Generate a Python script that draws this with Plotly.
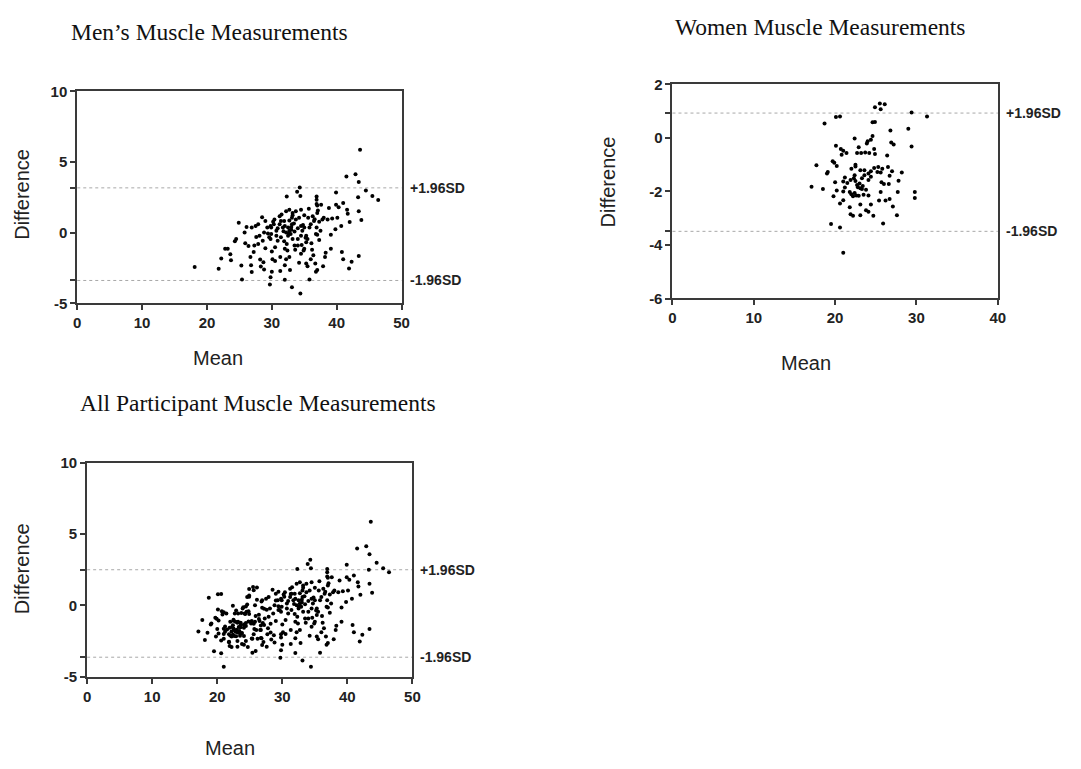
import plotly.graph_objects as go

# ---------------- data ----------------
men_mean = [43.6, 41.5, 42.9, 43.4, 44.5, 45.5, 46.4, 43.3, 34.3, 33.9, 34.4, 32.3, 39.9, 36.9, 36.9, 36.9,
            37.6, 38.8, 39.9, 40.3, 41.0, 41.6, 41.7, 43.4, 43.8, 42.0, 40.7, 39.8, 39.1, 40.1, 39.3, 38.0,
            37.1, 37.0, 36.3, 35.6, 35.0, 34.2, 33.2, 32.7, 32.2, 31.5, 31.2, 30.4, 30.2, 29.9, 29.4, 29.6,
            28.5, 29.0, 27.9, 27.5, 26.9, 26.1, 25.8, 25.9, 24.5, 24.3, 22.8, 23.2, 22.2, 23.6, 23.7, 21.8,
            18.1, 25.4, 25.3, 26.7, 26.8, 26.9, 27.2, 27.3, 28.2, 28.3, 28.7, 28.8, 29.0, 29.8, 29.9, 30.0,
            30.1, 29.8, 29.7, 30.0, 30.5, 31.3, 32.0, 32.2, 32.4, 32.3, 32.7, 32.8, 33.1, 34.4, 33.2, 33.5,
            33.6, 34.0, 34.2, 34.5, 35.0, 35.3, 35.5, 35.8, 36.0, 36.4, 36.7, 36.8, 37.0, 36.2, 36.1, 37.3,
            37.0, 37.9, 38.2, 38.3, 39.1, 40.8, 41.0, 41.9, 42.3, 43.4, 32.7, 33.0, 33.1, 32.5, 32.0, 31.7,
            31.2, 30.9, 30.7, 32.2, 32.5, 32.9, 33.5, 34.0, 34.5, 34.7, 35.0, 35.3, 35.5, 34.5, 34.0, 35.8,
            36.0, 36.5, 37.3, 37.8, 38.6, 36.9, 37.5, 36.8, 33.7, 33.1, 32.7, 31.9, 31.4, 33.7, 34.5, 33.2,
            35.7, 37.0, 29.8, 29.3, 28.8, 28.1, 28.6, 27.9, 30.9, 30.7, 31.4, 31.9, 30.5, 32.0, 34.6, 35.3,
            34.9, 32.0, 31.3, 33.0, 32.6, 33.4, 34.8, 35.2, 36.6, 31.8, 30.3, 26.4, 24.9, 27.6]
men_diff = [5.87, 3.98, 4.14, 3.59, 2.99, 2.60, 2.32, 2.50, 3.20, 2.90, 2.60, 2.55, 2.85, 2.55, 2.33, 2.03,
            1.98, 1.75, 1.98, 1.79, 2.10, 1.63, 1.33, 1.51, 0.89, 0.75, 0.47, 0.24, -0.15, 1.05, 1.00, 1.05,
            1.56, 1.40, 1.16, 1.05, 1.23, 1.05, 1.23, 1.63, 1.51, 1.28, 1.16, 0.93, 0.77, 0.36, -0.06, -0.33,
            1.10, 0.82, 0.59, 0.47, 0.36, 0.40, 0.01, -0.75, -0.45, -0.61, -1.14, -1.14, -1.83, -1.53, -1.95, -2.55,
            -2.43, -3.31, -2.32, -1.72, -2.30, -2.78, -1.37, -0.91, -1.90, -2.39, -2.09, -2.60, -1.10, -0.45, -0.10, -1.33,
            -1.88, -3.15, -3.66, -2.76, -2.00, -2.71, -3.33, -1.88, -1.26, -0.80, -1.72, -2.64, -3.86, -4.30, -0.45, -0.91,
            -1.21, -0.91, -2.13, -1.49, -1.14, -2.18, -2.37, -3.31, -1.88, -1.60, -2.18, -2.76, -2.64, -1.21, -0.75, -0.52,
            -0.15, -2.37, -1.72, -1.42, -1.14, -1.37, -1.88, -2.53, -2.06, -1.65, 0.13, 0.40, 0.59, 0.36, 0.47, 0.36,
            0.59, 0.31, 0.13, 0.01, -0.22, -0.10, 0.08, 0.31, 0.47, 0.13, 0.36, -0.22, -0.45, -0.22, -0.45, 0.36,
            0.59, 0.82, 0.77, 0.93, 0.93, 0.36, 0.13, -0.10, 0.93, 1.05, 0.86, 0.82, 0.82, 1.51, 1.63, 1.40,
            1.70, 1.93, 0.47, 0.36, 0.01, -0.22, -0.57, -0.80, -0.57, -0.22, -0.33, -0.61, -1.03, -1.14, -0.87, -0.68,
            -1.26, -2.30, -1.72, 0.20, -0.05, 0.65, 0.55, -0.35, 0.95, 0.10, 0.60, -0.95, 0.70, -0.30]

women_mean = [25.5, 26.1, 24.9, 25.6, 29.4, 31.3, 20.1, 20.6, 18.7, 24.6, 24.9, 29.0, 26.8, 22.4, 24.6, 24.4,
              24.0, 23.9, 26.9, 27.2, 29.4, 20.1, 20.7, 21.0, 21.4, 20.8, 22.9, 22.7, 23.2, 24.2, 24.9, 24.8,
              26.4, 17.7, 19.7, 19.9, 20.2, 19.1, 19.0, 22.5, 22.0, 23.1, 23.6, 24.1, 24.4, 24.8, 25.3, 25.8,
              25.6, 26.5, 27.0, 26.7, 28.2, 27.8, 17.1, 18.5, 20.0, 20.2, 21.2, 21.0, 21.5, 21.2, 21.0, 22.3,
              22.5, 22.7, 22.8, 23.1, 23.3, 23.4, 23.8, 21.8, 22.0, 22.2, 22.4, 22.6, 22.9, 23.5, 24.1, 19.8,
              20.6, 21.0, 21.8, 21.9, 22.2, 23.1, 23.1, 23.8, 24.1, 24.4, 24.7, 25.4, 25.6, 26.2, 26.7, 27.1,
              27.6, 27.7, 29.8, 29.8, 25.7, 26.0, 26.6, 25.9, 19.5, 20.6, 21.0, 24.4, 23.3, 23.6, 23.0, 22.4,
              21.9, 25.2, 24.1, 23.7, 22.5]
women_diff = [1.29, 1.26, 1.15, 1.07, 0.95, 0.80, 0.78, 0.80, 0.54, 0.59, 0.60, 0.34, 0.28, -0.02, 0.07, -0.07,
              -0.12, -0.21, -0.17, -0.24, -0.32, -0.29, -0.41, -0.48, -0.56, -0.63, -0.35, -0.56, -0.56, -0.56, -0.60, -0.41,
              -0.66, -1.02, -0.87, -0.93, -1.05, -1.27, -1.33, -1.00, -1.15, -1.21, -1.21, -1.33, -1.24, -1.12, -1.09, -1.15,
              -1.29, -1.09, -1.24, -1.41, -1.29, -1.60, -1.82, -1.91, -1.66, -1.96, -1.48, -1.63, -1.68, -1.85, -2.00, -1.51,
              -1.61, -1.76, -1.84, -1.88, -1.91, -1.80, -1.94, -2.02, -2.10, -2.18, -2.06, -2.15, -2.16, -2.12, -2.15, -2.18,
              -2.45, -2.33, -2.59, -2.85, -2.91, -2.49, -2.89, -2.70, -2.76, -2.49, -2.91, -2.34, -2.02, -2.34, -2.28, -2.56,
              -2.89, -2.02, -2.02, -2.24, -1.66, -1.72, -1.72, -3.20, -3.22, -3.35, -4.29, -1.45, -1.51, -1.39, -1.70, -1.39,
              -1.57, -1.27, -1.57, -0.54, -1.07]

all_mean = men_mean + women_mean
all_diff = men_diff + women_diff

panel_titles = ["Men\u2019s Muscle Measurements", "Women Muscle Measurements", "All Participant Muscle Measurements"]
limits_upper = [3.17, 0.93, 2.50]
limits_lower = [-3.38, -3.49, -3.63]
limit_labels = ["+1.96SD", "-1.96SD"]
x_ticks = [[0, 10, 20, 30, 40, 50], [0, 10, 20, 30, 40], [0, 10, 20, 30, 40, 50]]
y_ticks = [[-5, 0, 5, 10], [-6, -4, -2, 0, 2], [-5, 0, 5, 10]]
x_ranges = [[0, 50], [0, 40], [0, 50]]
y_ranges = [[-5, 10], [-6, 2], [-5, 10]]

# ---------------- layout geometry (page pixels; the page body has an 8px margin) ----------------
OFF = 8
W, H = 1081 - 2 * OFF, 769 - 2 * OFF
boxes = [(74, 402, 84, 301), (676, 1005, 77, 296), (84, 413, 464, 683)]  # x0,x1,ytop,ybottom
title_pos = [(66, 23), (677, 18), (75, 403)]
ylab_pos = [(18, 189), (611, 177), (18, 572)]
xlab_pos = [(216, 357), (811, 362), (228, 756)]


def px(x):
    return (x - OFF) / W


def py(y):
    return 1 - (y - OFF) / H


fig = go.Figure()
series = [(men_mean, men_diff), (women_mean, women_diff), (all_mean, all_diff)]

AX = "#3a3a3a"
tickfont = dict(family="Liberation Sans, Arial", size=15, color="#222", weight="bold")
labfont = dict(family="Liberation Sans, Arial", size=20, color="#222")
titfont = dict(family="Liberation Serif, Times New Roman", size=23.5, color="#111")

for i, (xs, ys) in enumerate(series):
    n = "" if i == 0 else str(i + 1)
    x0, x1, yt, yb = boxes[i]
    fig.add_trace(go.Scatter(x=xs, y=ys, mode="markers", xaxis="x" + n, yaxis="y" + n,
                             marker=dict(size=4, color="black"), showlegend=False, hoverinfo="skip"))
    yt_vals = y_ticks[i] + [limits_upper[i], limits_lower[i]]
    yt_text = [str(v) for v in y_ticks[i]] + ["", ""]
    fig.update_layout(**{
        "xaxis" + n: dict(domain=[px(x0), px(x1)], range=x_ranges[i], anchor="y" + n,
                          tickvals=x_ticks[i], ticks="outside", ticklen=5, tickwidth=2, tickcolor=AX,
                          showline=True, linecolor=AX, linewidth=2, mirror=True, showgrid=False,
                          zeroline=False, tickfont=tickfont),
        "yaxis" + n: dict(domain=[py(yb), py(yt)], range=y_ranges[i], anchor="x" + n,
                          tickvals=yt_vals, ticktext=yt_text, ticks="outside", ticklen=5, tickwidth=2,
                          tickcolor=AX, showline=True, linecolor=AX, linewidth=2, mirror=True,
                          showgrid=False, zeroline=False, tickfont=tickfont),
    })
    for val, lab in zip([limits_upper[i], limits_lower[i]], limit_labels):
        fig.add_shape(type="line", xref="x" + n + " domain", x0=0, x1=1, yref="y" + n, y0=val, y1=val,
                      line=dict(color="#a8a8a8", width=1, dash="dot"), layer="below")
        fig.add_annotation(xref="x" + n + " domain", x=1, xshift=6, yref="y" + n, y=val, text=lab,
                           showarrow=False, xanchor="left", yanchor="middle",
                           font=dict(family="Liberation Sans, Arial", size=14, color="#222", weight="bold"))
    tx, ty = title_pos[i]
    fig.add_annotation(xref="paper", yref="paper", x=px(tx), y=py(ty), text=panel_titles[i],
                       showarrow=False, xanchor="left", yanchor="middle", font=titfont)
    lx, ly = ylab_pos[i]
    fig.add_annotation(xref="paper", yref="paper", x=px(lx), y=py(ly), text="Difference",
                       textangle=-90, showarrow=False, xanchor="center", yanchor="middle", font=labfont)
    mx, my = xlab_pos[i]
    fig.add_annotation(xref="paper", yref="paper", x=px(mx), y=py(my), text="Mean",
                       showarrow=False, xanchor="center", yanchor="middle", font=labfont)

fig.update_layout(width=W, height=H, autosize=False, margin=dict(l=0, r=0, t=0, b=0),
                  paper_bgcolor="white", plot_bgcolor="white", showlegend=False)

fig.write_html("out.html", config={"displayModeBar": False})
